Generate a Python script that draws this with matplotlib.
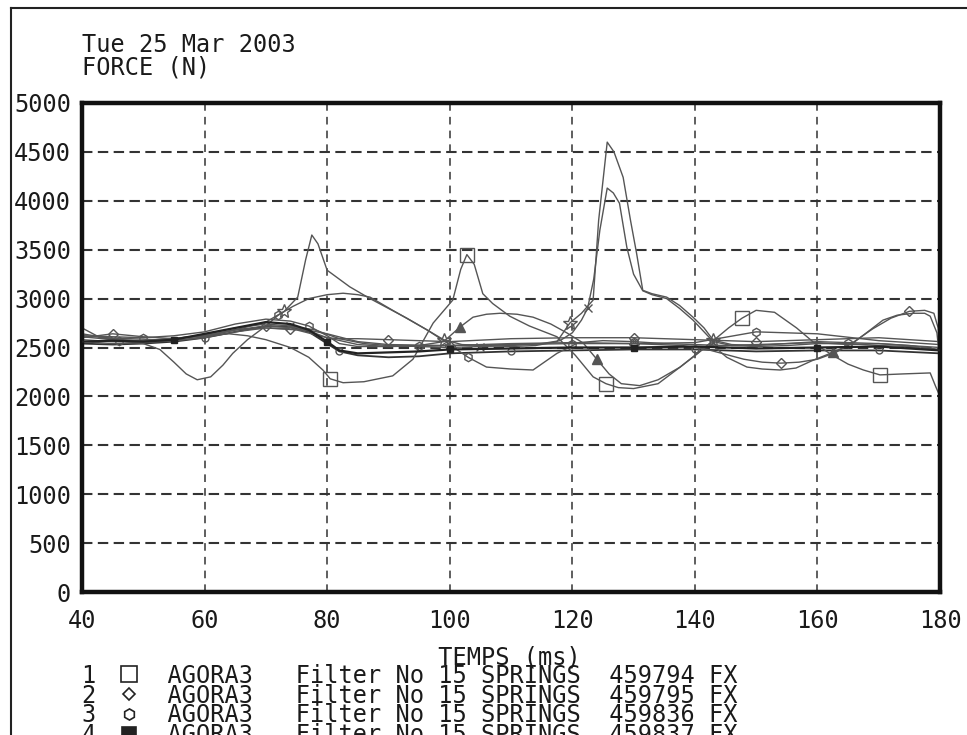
import matplotlib
matplotlib.use("Agg")
import matplotlib.pyplot as plt
from matplotlib.lines import Line2D

plt.rcParams['font.family'] = ['DejaVu Sans Mono']

# --- donnees (temps en ms, force en N) ---
date_label = "Tue 25 Mar 2003"
y_label = "FORCE (N)"
x_label = "TEMPS (ms)"
x_ticks = [40, 60, 80, 100, 120, 140, 160, 180]
y_ticks = [0, 500, 1000, 1500, 2000, 2500, 3000, 3500, 4000, 4500, 5000]

legend_ids = ["1", "2", "3", "4"]
legend_names = ["AGORA3", "AGORA3", "AGORA3", "AGORA3"]
legend_filters = ["Filter No 15 SPRINGS"] * 4
legend_codes = ["459794 FX", "459795 FX", "459836 FX", "459837 FX"]

# courbe 1 (carres)
s_x = [40, 44, 48, 52, 56, 60, 64, 67, 70, 74, 77, 79.3, 80.5, 82.6, 86, 90.7, 94, 97.3, 100.5, 101.8,
       102.8, 104, 105.4, 107, 109.8, 113, 117.5, 120.5, 123.4, 125.5, 127.5, 130, 134, 137.6, 140.5, 143,
       145.5, 147.7, 150, 153, 156.6, 160, 162.5, 165, 167.5, 170.2, 174, 178.4, 179.3, 180]
s_y = [2620, 2600, 2590, 2580, 2600, 2620, 2640, 2620, 2580, 2500, 2400, 2270, 2180, 2140, 2150, 2210,
       2380, 2750, 2985, 3300, 3450, 3350, 3050, 2950, 2820, 2720, 2610, 2420, 2200, 2130, 2090, 2080,
       2130, 2300, 2440, 2570, 2700, 2800, 2880, 2860, 2700, 2520, 2420, 2330, 2270, 2220, 2230, 2240,
       2100, 2000]

# pic a 4600 N (etoiles)
p1_x = [40, 45, 50, 55, 60, 65, 70, 73, 75.2, 76.5, 77.5, 78.5, 80, 83.7, 87, 90, 93, 96.3, 99, 102,
        106, 110, 114, 117.5, 119.6, 121.5, 123.4, 124.3, 125.7, 126.8, 128.3, 129.5, 130.5, 131.5, 133,
        135.4, 137.5, 139.7, 141.5, 143, 146, 150, 155, 160, 165, 170, 175, 180]
p1_y = [2640, 2590, 2560, 2570, 2610, 2680, 2760, 2870, 3015, 3400, 3650, 3560, 3290, 3120, 3000, 2900,
        2800, 2680, 2580, 2530, 2520, 2510, 2520, 2560, 2750, 2850, 2985, 3800, 4600, 4500, 4240, 3800,
        3460, 3085, 3050, 3015, 2930, 2810, 2700, 2575, 2530, 2520, 2540, 2550, 2530, 2540, 2520, 2480]

# pic a 4130 N
p2_x = [40, 45, 50, 55, 60, 65, 70, 74, 78, 82, 86, 90, 95, 100, 105, 110, 115, 118, 120, 121.5, 122.5,
        123.5, 124.5, 125.7, 126.7, 127.7, 128.9, 130, 131.5, 133, 135.4, 137.5, 139.7, 141.5, 143, 146,
        150, 155, 160, 165, 170, 175, 180]
p2_y = [2610, 2580, 2570, 2590, 2630, 2700, 2740, 2720, 2680, 2590, 2540, 2520, 2510, 2500, 2510, 2520,
        2540, 2570, 2650, 2780, 2900, 3200, 3700, 4130, 4080, 3975, 3525, 3250, 3080, 3040, 3000, 2900,
        2780, 2660, 2560, 2520, 2510, 2520, 2540, 2540, 2520, 2510, 2470]

# creux a 59 ms puis bosse a 82 ms
h_x = [40, 43, 46, 50, 52.7, 55, 57, 58.8, 61, 63, 64.6, 67, 70, 72, 74.4, 77, 80, 82.6, 85, 87, 90.7,
       93.5, 96.3, 99.6, 103, 106, 110, 113.6, 117.5, 121, 125, 130, 135, 140, 145, 150, 155, 160, 165,
       170, 175, 180]
h_y = [2700, 2600, 2570, 2540, 2480, 2350, 2230, 2170, 2200, 2320, 2440, 2580, 2720, 2830, 2920, 3000,
       3040, 3055, 3040, 3015, 2880, 2780, 2680, 2545, 2400, 2300, 2280, 2270, 2440, 2550, 2570, 2560,
       2540, 2530, 2520, 2530, 2540, 2560, 2550, 2540, 2520, 2500]

# bosse a 108 ms, creux a 130 ms, remontee finale
t_x = [40, 45, 50, 55, 60, 65, 70, 75, 80, 85, 90, 95, 99, 101.7, 103.8, 106, 108.2, 111, 113.6, 116.5,
       119.1, 121.8, 124, 126, 128, 131, 134, 137.6, 140, 142.5, 145.2, 148.5, 151, 153.9, 156.5, 159.3,
       162.5, 165.8, 168, 170.7, 173, 175.6, 177.5, 178.4, 179.5, 180]
t_y = [2560, 2540, 2550, 2570, 2600, 2660, 2700, 2680, 2600, 2530, 2510, 2520, 2560, 2710, 2810, 2840,
       2850, 2840, 2810, 2740, 2650, 2545, 2380, 2230, 2130, 2110, 2170, 2300, 2420, 2545, 2400, 2300,
       2280, 2270, 2290, 2370, 2450, 2545, 2650, 2780, 2830, 2850, 2850, 2820, 2650, 2350]

e_x = [40, 45, 50, 55, 60, 65, 70, 75, 80, 85, 90, 100, 110, 120, 130, 138, 142, 145, 148, 151, 154,
       157, 160, 163, 166, 169, 172, 175, 177.5, 179, 179.7, 180]
e_y = [2580, 2560, 2560, 2590, 2620, 2680, 2720, 2700, 2640, 2560, 2530, 2520, 2540, 2550, 2540, 2520,
       2480, 2430, 2380, 2350, 2340, 2350, 2380, 2450, 2560, 2690, 2800, 2870, 2880, 2850, 2700, 2380]

# faisceau autour de 2500 N
b_x = [40, 45, 50, 55, 60, 65, 70, 74, 77, 80, 82, 85, 90, 95, 100, 110, 120, 130, 140, 150, 160, 170, 180]
b1_y = [2560, 2570, 2560, 2580, 2640, 2700, 2760, 2740, 2680, 2560, 2470, 2440, 2450, 2460, 2480, 2490,
        2500, 2500, 2510, 2490, 2500, 2510, 2470]
b2_y = [2620, 2610, 2600, 2620, 2660, 2740, 2790, 2770, 2720, 2620, 2540, 2510, 2510, 2515, 2520, 2530,
        2540, 2540, 2550, 2660, 2640, 2570, 2530]
b3_y = [2540, 2530, 2540, 2560, 2600, 2660, 2720, 2710, 2660, 2540, 2460, 2420, 2400, 2410, 2440, 2460,
        2470, 2480, 2480, 2460, 2470, 2470, 2440]
b4_y = [2600, 2640, 2610, 2590, 2620, 2680, 2700, 2690, 2670, 2600, 2590, 2590, 2580, 2570, 2560, 2590,
        2600, 2600, 2580, 2560, 2580, 2600, 2560]

W, H = 967, 735
fig = plt.figure(figsize=(W / 100, H / 100), dpi=100)
ax = fig.add_axes([82 / W, 1 - 592 / H, (940 - 82) / W, (592 - 103) / H])

gray = '#555555'
ms_open = dict(markerfacecolor='none', markeredgecolor=gray, markeredgewidth=1.0)

ax.plot(b_x, b1_y, color='#222222', lw=1.6, marker='s', ms=4, markevery=[3, 9, 14, 17, 20], zorder=3)
ax.plot(b_x, b2_y, color=gray, lw=1.0, marker='h', ms=6, markevery=[2, 8, 13, 16, 19], **ms_open)
ax.plot(b_x, b3_y, color='#333333', lw=1.3, marker='o', ms=5, markevery=[4, 10, 15, 18, 21], **ms_open)
ax.plot(b_x, b4_y, color=gray, lw=1.0, marker='D', ms=5, markevery=[1, 7, 12, 17, 19], **ms_open)
ax.plot(e_x, e_y, color=gray, lw=1.0, marker='D', ms=5, markevery=[6, 11, 14, 20, 27], **ms_open)
ax.plot(h_x, h_y, color=gray, lw=1.0, marker='h', ms=6, markevery=[2, 13, 24, 31, 38], **ms_open)
ax.plot(t_x, t_y, color=gray, lw=1.0, marker='^', ms=7, markevery=[13, 22, 36], markerfacecolor=gray)
ax.plot(p2_x, p2_y, color=gray, lw=1.0, marker='x', ms=6, markevery=[7, 14, 20, 34], markeredgecolor=gray)
ax.plot(p1_x, p1_y, color=gray, lw=1.0, marker='*', ms=10, markevery=[7, 18, 24, 39], **ms_open)
ax.plot(s_x, s_y, color=gray, lw=1.0, marker='s', ms=10, markevery=[12, 20, 29, 37, 45], **ms_open)

ax.set_xlim(40, 180)
ax.set_ylim(0, 5000)
ax.set_xticks(x_ticks)
ax.set_yticks(y_ticks)
ax.tick_params(length=0, labelsize=17, colors='#1a1a1a')
ax.tick_params(axis='y', pad=8)
ax.tick_params(axis='x', pad=12)

for v in y_ticks[1:-1]:
    ax.axhline(v, color='#333333', lw=1.5, ls=(0, (5, 2.6)), zorder=1)
for v in x_ticks[1:-1]:
    ax.axvline(v, color='#333333', lw=1.1, ls=(0, (5, 4)), zorder=1)

for sp in ax.spines.values():
    sp.set_linewidth(3.2)
    sp.set_color('#111111')


def fy(py):
    return 1 - py / H


fig.text(82 / W, fy(45), date_label, fontsize=17, va='center', ha='left', color='#1a1a1a')
fig.text(82 / W, fy(68), y_label, fontsize=17, va='center', ha='left', color='#1a1a1a')

# bloc legende : titre de l'axe x + lignes, en un seul texte serre
lines = [" " * 25 + x_label]
for num, name, filt, code in zip(legend_ids, legend_names, legend_filters, legend_codes):
    lines.append(num + " " * 5 + name.ljust(9) + filt + "  " + code)
fig.text(82 / W, fy(645), "\n".join(lines), fontsize=17, va='top', ha='left',
         color='#1a1a1a', linespacing=0.76)

legend_markers = [dict(marker='s', ms=11, mfc='none'),
                  dict(marker='D', ms=6, mfc='none'),
                  dict(marker='h', ms=8, mfc='none'),
                  dict(marker='s', ms=10, mfc='#222222')]
for i in range(len(legend_ids)):
    py = 674 + 20 * i
    fig.add_artist(Line2D([129 / W], [fy(py)], transform=fig.transFigure, ls='none',
                          mec='#222222', mew=1.2, **legend_markers[i]))

# bord de la page scannee
fig.add_artist(Line2D([11 / W, 11 / W], [0, fy(8)], transform=fig.transFigure, color='#222222', lw=1.5))
fig.add_artist(Line2D([11 / W, 1], [fy(8), fy(8)], transform=fig.transFigure, color='#222222', lw=1.5))

fig.savefig("out.png", dpi=100)
